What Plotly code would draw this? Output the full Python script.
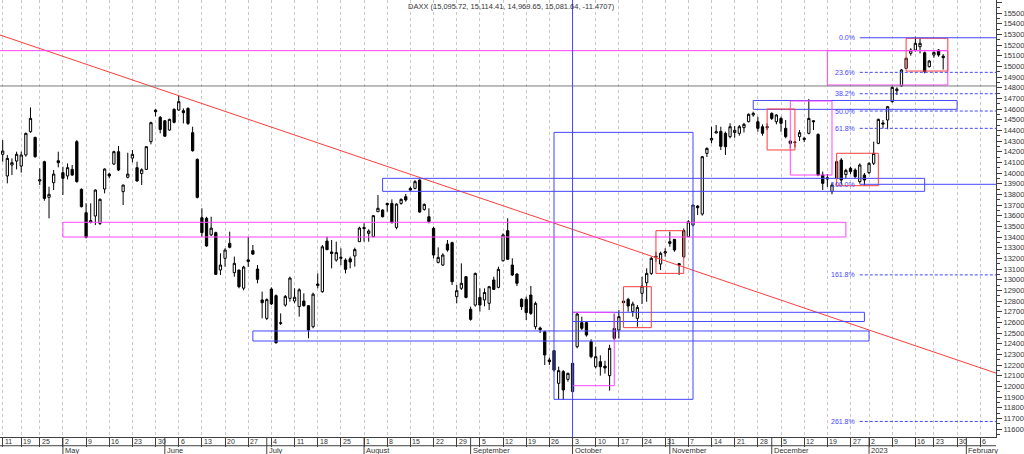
import plotly.graph_objects as go
import pandas as pd

# ---------------- data ----------------
SKIPPED_DAYS = ["2022-04-15", "2022-04-18", "2022-12-26", "2023-01-18"]
FIRST_DAY, LAST_AXIS_DAY = "2022-04-11", "2023-02-10"

opens = [
    14175, 13972, 14075, 14112, 14065, 14169, 14387, 14334, 13925, 14106, 13772, 13909, 14115,
    14003, 13972, 14034, 14294, 13847, 13628, 13540, 13597, 13528, 13850, 13990, 14084, 14200, 13825, 13960, 14140, 14050, 13995, 14034, 14294, 14590, 14522,
    14490, 14403, 14597, 14590, 14584, 14606, 14378, 14128, 13581, 13575, 13420, 13441, 13091, 13200, 13340, 13066, 13091, 12920, 13170, 13272, 13100, 12810,
    12637, 12912, 12850, 12590, 12762, 12825, 12800, 12747, 12800, 12756, 12559, 12945, 12887, 13362, 13260, 13184, 13200, 13184, 13195, 13222, 13356,
    13490, 13434, 13403, 13637, 13653, 13715, 13715, 13490, 13715, 13778, 13856, 13856, 13934, 13659, 13590, 13481, 13162, 13137, 13334, 13347, 12841, 12919, 13028,
    12722, 12762, 12834, 12810, 12778, 12997, 12928, 13178, 13459, 13137, 13053, 12816, 12816, 12856, 12559, 12547, 12512, 12247, 12334, 12028, 12138, 12066,
    11950, 12372, 12597, 12597, 12419, 12184, 12231, 12190, 12100, 12543, 12528, 12800, 12815, 12700, 12637, 12872, 12972, 13059, 13220, 13147, 13250,
    13340, 13378, 13150, 13215, 13403, 13512, 13690, 13615, 14184, 14309, 14375, 14390, 14372, 14341, 14380, 14372, 14425, 14481, 14544, 14481, 14434, 14425,
    14559, 14481, 14512, 14419, 14300, 14290, 14341, 14325, 14372, 14490, 14362, 13981, 13955, 13825, 13950, 14122, 13985, 14044, 14028, 13919, 13981,
    14003, 14091, 14278, 14470, 14497, 14669, 14772, 14816, 14981, 15122, 15153, 15184, 15128, 14997, 15106, 15153, 15095.72,
]
highs = [
    14309, 14169, 14137, 14200, 14200, 14378, 14615, 14340, 14044, 14115, 13872, 14028, 14200,
    14059, 14090, 14075, 14309, 13856, 13716, 13716, 13847, 13762, 14044, 14003, 14209, 14253, 13890, 14190, 14215, 14106, 14044, 14253, 14481, 14597, 14534,
    14497, 14509, 14606, 14722, 14606, 14615, 14434, 14137, 13669, 13590, 13590, 13450, 13247, 13294, 13450, 13216, 13091, 13130, 13400, 13325, 13137, 12888,
    12825, 12928, 12862, 12684, 12856, 13028, 12919, 12919, 12872, 12762, 12878, 13059, 13325, 13403, 13372, 13356, 13294, 13200, 13216, 13300, 13497,
    13528, 13472, 13606, 13794, 13659, 13722, 13753, 13715, 13762, 13803, 13872, 13934, 13940, 13715, 13669, 13497, 13303, 13247, 13372, 13356, 12950, 13153, 13034,
    12747, 13066, 12919, 12919, 12941, 13028, 13122, 13434, 13575, 13200, 13059, 12825, 12841, 12941, 12794, 12560, 12522, 12270, 12341, 12184, 12153, 12128,
    12222, 12690, 12653, 12606, 12441, 12372, 12290, 12240, 12390, 12677, 12715, 12809, 12830, 12794, 12762, 13028, 13106, 13215, 13262, 13262, 13294,
    13450, 13378, 13153, 13480, 13559, 13700, 13700, 14160, 14240, 14434, 14450, 14434, 14388, 14466, 14440, 14450, 14470, 14559, 14575, 14528, 14456, 14466,
    14569, 14550, 14528, 14497, 14310, 14300, 14403, 14340, 14694, 14497, 14372, 14013, 13990, 13912, 14115, 14140, 14040, 14060, 14044, 14090, 14000,
    14100, 14294, 14510, 14497, 14628, 14820, 14803, 14975, 15085, 15170, 15278, 15263, 15138, 15060, 15140, 15160, 15114.41,
]
lows = [
    14106, 13903, 13981, 14034, 14003, 14153, 14378, 14144, 13887, 13740, 13575, 13840, 14053,
    13794, 13940, 13972, 13909, 13678, 13387, 13528, 13512, 13512, 13809, 13950, 14075, 14018, 13700, 13950, 14100, 13920, 13887, 14028, 14269, 14530, 14372,
    14340, 14397, 14465, 14584, 14465, 14450, 14200, 13762, 13403, 13309, 13410, 13044, 13044, 13122, 13294, 13028, 12919, 12900, 13120, 13231, 12966, 12637,
    12622, 12762, 12400, 12575, 12747, 12794, 12778, 12653, 12747, 12450, 12544, 12919, 12878, 13278, 13106, 13169, 13137, 13059, 13106, 13122, 13356,
    13356, 13356, 13403, 13637, 13584, 13637, 13528, 13472, 13703, 13731, 13834, 13847, 13628, 13647, 13528, 13200, 13153, 13128, 13262, 12950, 12778, 12903, 12825,
    12616, 12747, 12700, 12750, 12716, 12903, 12919, 13169, 13184, 13034, 12941, 12716, 12622, 12669, 12534, 12500, 12200, 12200, 12138, 11878, 11872, 12044,
    11950, 12356, 12528, 12466, 12263, 12169, 12100, 12120, 11960, 12434, 12450, 12762, 12700, 12653, 12559, 12772, 12793, 13044, 13168, 13090, 13215,
    13309, 13262, 13044, 13200, 13403, 13500, 13606, 13600, 14150, 14278, 14372, 14215, 14169, 14325, 14330, 14350, 14380, 14475, 14528, 14387, 14350, 14403,
    14497, 14456, 14387, 14325, 14230, 14240, 14300, 14290, 14362, 14403, 13970, 13841, 13870, 13800, 13940, 13890, 13950, 13990, 13950, 13900, 13880,
    13990, 14075, 14270, 14419, 14410, 14660, 14731, 14810, 14975, 15100, 15138, 15122, 14935, 14990, 15080, 15090, 14969.65,
]
closes = [
    14206, 14137, 14097, 14175, 14169, 14372, 14512, 14153, 13937, 13762, 13800, 13990, 14097,
    13950, 14050, 13981, 13919, 13684, 13397, 13553, 13840, 13753, 14037, 13972, 14200, 14028, 13887, 13990, 14175, 13925, 14030, 14247, 14472, 14575, 14409,
    14345, 14503, 14475, 14669, 14566, 14465, 14209, 13772, 13441, 13316, 13483, 13050, 13137, 13278, 13303, 13153, 12934, 13118, 13186, 13240, 13003, 12784,
    12813, 12773, 12409, 12595, 12843, 13015, 12835, 12905, 12756, 12528, 12864, 12959, 13308, 13281, 13246, 13254, 13210, 13097, 13166, 13282, 13484,
    13479, 13456, 13600, 13669, 13590, 13703, 13534, 13709, 13753, 13747, 13840, 13919, 13634, 13706, 13544, 13231, 13209, 13231, 13278, 12981, 12897, 12966, 12834,
    12628, 13059, 12762, 12880, 12934, 12909, 13097, 13419, 13191, 13044, 12966, 12747, 12691, 12684, 12778, 12531, 12294, 12231, 12153, 12147, 11966, 12122,
    12216, 12678, 12544, 12481, 12278, 12278, 12184, 12172, 12356, 12450, 12653, 12784, 12753, 12772, 12740, 12940, 13059, 13200, 13211, 13247, 13262,
    13356, 13278, 13137, 13460, 13543, 13700, 13675, 14153, 14231, 14325, 14387, 14250, 14247, 14434, 14400, 14434, 14456, 14550, 14559, 14419, 14372, 14434,
    14512, 14544, 14466, 14341, 14278, 14287, 14378, 14315, 14512, 14481, 13981, 13903, 13945, 13887, 14106, 13934, 14025, 14013, 13966, 14075, 13934,
    14091, 14184, 14503, 14459, 14622, 14803, 14787, 14966, 15075, 15153, 15216, 15216, 14950, 15050, 15131, 15106, 15081.64,
]

week_ticks = ["2022-04-11", "2022-04-19", "2022-04-25", "2022-05-02", "2022-05-09", "2022-05-16", "2022-05-23",
              "2022-05-30", "2022-06-06", "2022-06-13", "2022-06-20", "2022-06-27", "2022-07-04", "2022-07-11",
              "2022-07-18", "2022-07-25", "2022-08-01", "2022-08-08", "2022-08-15", "2022-08-22", "2022-08-29",
              "2022-09-05", "2022-09-12", "2022-09-19", "2022-09-26", "2022-10-03", "2022-10-10", "2022-10-17",
              "2022-10-24", "2022-10-31", "2022-11-07", "2022-11-14", "2022-11-21", "2022-11-28", "2022-12-05",
              "2022-12-12", "2022-12-19", "2022-12-27", "2023-01-02", "2023-01-09", "2023-01-16", "2023-01-23",
              "2023-01-30", "2023-02-06"]
month_starts = ["2022-05-02", "2022-06-01", "2022-07-01", "2022-08-01", "2022-09-01", "2022-10-03",
                "2022-11-01", "2022-12-01", "2023-01-02", "2023-02-01"]
month_names = ["May", "June", "July", "August", "September", "October", "November", "December", "2023", "February"]

fib_high, fib_low = 15268, 13894
fib_levels = [0.0, 0.236, 0.382, 0.5, 0.618, 1.0, 1.618, 2.618]

title_text = "DAXX (15,095.72, 15,114.41, 14,969.65, 15,081.64, -11.4707)"

# drawing objects: (start day, end day, top value, bottom value)
blue_boxes = [("2022-09-27", "2022-11-08", 14381, 11878),
              ("2022-08-05", "2023-01-19", 13950, 13828),
              ("2022-11-25", "2023-01-30", 14680, 14597),
              ("2022-10-03", "2022-12-30", 12694, 12608),
              ("2022-06-28", "2023-01-02", 12519, 12425)]
magenta_boxes = [("2022-05-02", "2022-12-23", 13538, 13400),
                 ("2022-10-03", "2022-10-14", 12694, 12006),
                 ("2022-12-07", "2022-12-20", 14675, 13981),
                 ("2022-12-19", "2023-01-26", 15147, 14825)]
red_boxes = [("2022-10-18", "2022-10-26", 12934, 12550),
             ("2022-10-27", "2022-11-04", 13459, 13059),
             ("2022-11-30", "2022-12-08", 14600, 14216),
             ("2022-12-21", "2023-01-04", 14185, 13881),
             ("2023-01-12", "2023-01-26", 15263, 14956)]
trend_anchors = [("2022-06-06", 14725), ("2022-08-16", 13973)]
magenta_level, magenta_level_end = 15147, "2023-01-26"
gray_level = 14816
vline_day = "2022-10-03"

# ---------------- build ----------------
assert len(opens) == len(highs) == len(lows) == len(closes)
days = [d.strftime("%Y-%m-%d") for d in pd.bdate_range(FIRST_DAY, LAST_AXIS_DAY)
        if d.strftime("%Y-%m-%d") not in SKIPPED_DAYS]
pos = {d: i for i, d in enumerate(days)}
xs = list(range(len(opens)))

X_MIN, X_MAX = -0.58, 214.4
Y_MIN, Y_MAX = 11525, 15622
FONT = "Liberation Sans"
TXT = "#333333"
AX = "#404040"
BLUE = "#4646ff"
MAGENTA = "#ff44ff"
RED = "#ff3c3c"

fig = go.Figure()
fig.add_trace(go.Candlestick(
    x=xs, open=opens, high=highs, low=lows, close=closes,
    increasing=dict(line=dict(color="black", width=1), fillcolor="white"),
    decreasing=dict(line=dict(color="black", width=1), fillcolor="black"),
    whiskerwidth=0, showlegend=False, hoverinfo="skip"))

# trendline
(d1, v1), (d2, v2) = trend_anchors
slope = (v2 - v1) / (pos[d2] - pos[d1])
tx = [X_MIN - 5, X_MAX + 5]
fig.add_trace(go.Scatter(x=tx, y=[v1 + slope * (t - pos[d1]) for t in tx], mode="lines",
                         line=dict(color=RED, width=1), showlegend=False, hoverinfo="skip"))

shapes = []
def box(d0, d1_, top, bot, color):
    shapes.append(dict(type="rect", xref="x", yref="y", x0=pos[d0], x1=pos[d1_], y0=bot, y1=top,
                       line=dict(color=color, width=1), fillcolor="rgba(0,0,0,0)", layer="above"))
for b in blue_boxes:
    box(*b, BLUE)
for b in magenta_boxes:
    box(*b, MAGENTA)
for b in red_boxes:
    box(*b, RED)

shapes.append(dict(type="line", xref="x", yref="y", x0=X_MIN, x1=pos[magenta_level_end],
                   y0=magenta_level, y1=magenta_level, line=dict(color=MAGENTA, width=1)))
shapes.append(dict(type="line", xref="paper", yref="y", x0=0, x1=1, y0=gray_level, y1=gray_level,
                   line=dict(color="#7a7a7a", width=1)))
shapes.append(dict(type="line", xref="x", yref="paper", x0=pos[vline_day], x1=pos[vline_day], y0=0, y1=1,
                   line=dict(color=BLUE, width=1)))

annotations = []
fib_start = pos["2022-12-29"]
for lv in fib_levels:
    val = fib_high - lv * (fib_high - fib_low)
    solid = lv in (0.0, 1.0)
    shapes.append(dict(type="line", xref="x", yref="y", x0=fib_start, x1=X_MAX, y0=val, y1=val,
                       line=dict(color=BLUE, width=1, dash="solid" if solid else "3px,2px")))
    annotations.append(dict(x=fib_start, y=val, xref="x", yref="y", text=f"{lv*100:.1f}%",
                            showarrow=False, xanchor="right", xshift=-3, yanchor="middle",
                            font=dict(family=FONT, size=7, color=BLUE)))

# bottom date strip
shapes.append(dict(type="line", xref="paper", yref="paper", x0=0, x1=1, y0=-0.02, y1=-0.02,
                   line=dict(color=AX, width=1)))
for d in month_starts:
    shapes.append(dict(type="line", xref="x", yref="paper", x0=pos[d], x1=pos[d], y0=0, y1=-0.045,
                       line=dict(color=AX, width=1)))
for d in week_ticks:
    annotations.append(dict(x=pos[d], y=-0.0103, xref="x", yref="paper", text=str(int(d[-2:])),
                            showarrow=False, xanchor="left", xshift=0, yanchor="middle",
                            font=dict(family=FONT, size=7, color=TXT)))
for d, name in zip(month_starts, month_names):
    annotations.append(dict(x=pos[d], y=-0.031, xref="x", yref="paper", text=name,
                            showarrow=False, xanchor="left", xshift=0, yanchor="middle",
                            font=dict(family=FONT, size=7.5, color=TXT)))

annotations.append(dict(x=512 / 996, y=1, xref="paper", yref="paper", text=title_text, showarrow=False,
                        xanchor="center", yanchor="top", font=dict(family=FONT, size=7.5, color=TXT)))

fig.update_layout(
    template="none",
    width=1024, height=454, margin=dict(l=0, r=28, t=0, b=17, pad=0, autoexpand=False),
    paper_bgcolor="white", plot_bgcolor="white", showlegend=False,
    font=dict(family=FONT, size=7.5, color=TXT),
    shapes=shapes, annotations=annotations,
    xaxis=dict(range=[X_MIN, X_MAX], rangeslider=dict(visible=False), tickmode="array",
               tickvals=[pos[d] for d in week_ticks], showticklabels=False, automargin=False,
               ticks="outside", ticklen=9, tickcolor=AX, tickwidth=1,
               showgrid=True, gridcolor="#c8c8c8", griddash="3px,3px", gridwidth=1,
               showline=True, linecolor=AX, linewidth=1, zeroline=False, fixedrange=True),
    yaxis=dict(range=[Y_MIN, Y_MAX], side="right", tickmode="array", automargin=False,
               tickvals=list(range(11600, 15601, 100)), tickformat="d",
               ticks="outside", ticklen=5, tickcolor=AX, tickwidth=1,
               minor=dict(dtick=50, ticks="outside", ticklen=3, tickcolor=AX, showgrid=False),
               showgrid=False, showline=True, linecolor=AX, linewidth=1, zeroline=False,
               tickfont=dict(family=FONT, size=7.5, color=TXT)),
)
fig.write_html("out.html", config={"displayModeBar": False},
               post_script="document.body.style.margin='0px';document.body.style.overflow='hidden';")
